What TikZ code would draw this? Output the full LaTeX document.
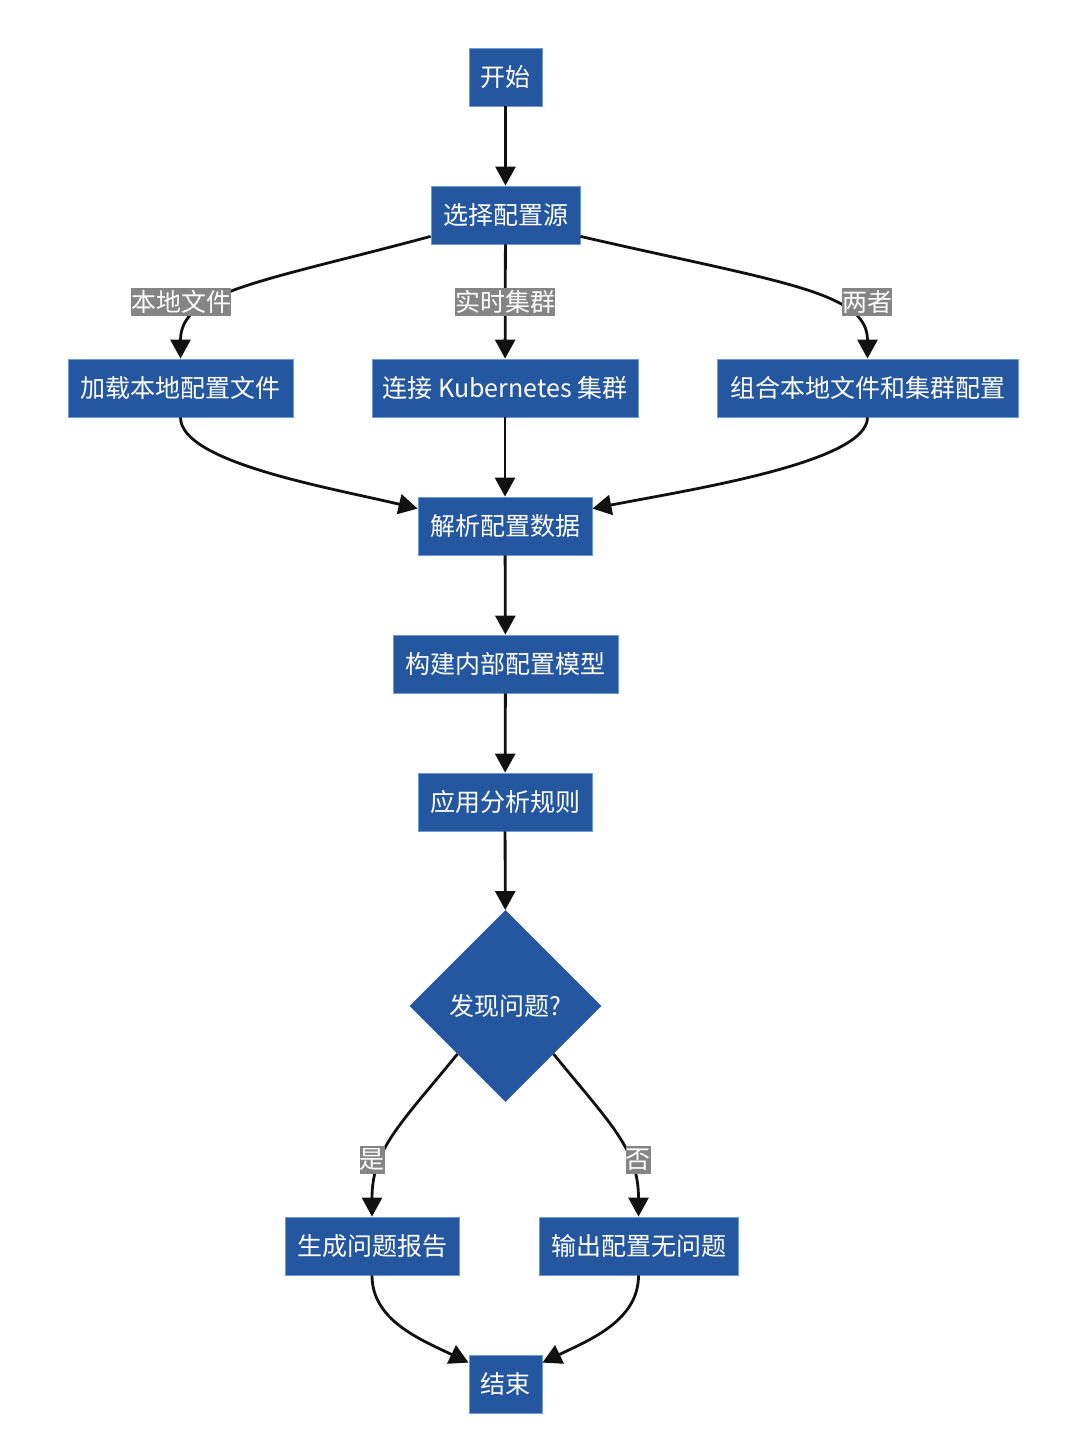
\documentclass[tikz,border=0pt]{standalone}
\usepackage{fontspec}
\setmainfont{Noto Sans CJK SC}
\usetikzlibrary{shapes.geometric,arrows.meta}
\definecolor{boxfill}{HTML}{2457A0}
\definecolor{boxline}{HTML}{6B9BD8}
\definecolor{lblgray}{HTML}{858585}
\definecolor{edgecol}{HTML}{111111}
\begin{document}
\begin{tikzpicture}[x=1pt,y=-1pt,
  box/.style={rectangle,fill=boxfill,draw=boxline,line width=0.8pt,text=white,
    minimum height=58pt,inner sep=0pt,font=\fontsize{25}{30}\selectfont},
  decision/.style={diamond,fill=boxfill,draw=none,text=white,minimum width=192pt,
    minimum height=192pt,inner sep=0pt,font=\fontsize{25}{30}\selectfont},
  lbl/.style={rectangle,fill=lblgray,text=white,inner xsep=0pt,inner ysep=0pt,
    minimum height=28pt,font=\fontsize{25}{30}\selectfont},
  flow/.style={line width=2.8pt,draw=edgecol,-{Triangle[length=19pt,width=20pt]}}]
\fill[white] (0,0) rectangle (1080,1456);
\useasboundingbox (0,0) rectangle (1080,1456);

\node[box,minimum width=73pt] (start) at (505.5,77) {开始};
\node[box,minimum width=149pt] (src) at (505.5,215) {选择配置源};
\node[box,minimum width=225pt] (load) at (180.5,388) {加载本地配置文件};
\node[box,minimum width=266pt] (k8s) at (505,388) {连接 Kubernetes 集群};
\node[box,minimum width=301pt] (comb) at (867.5,388) {组合本地文件和集群配置};
\node[box,minimum width=174pt] (parse) at (505,526) {解析配置数据};
\node[box,minimum width=225pt] (model) at (505.5,664) {构建内部配置模型};
\node[box,minimum width=174pt] (rules) at (505,802) {应用分析规则};
\node[decision] (dec) at (505.5,1006) {发现问题?};
\node[box,minimum width=174pt] (report) at (372,1246) {生成问题报告};
\node[box,minimum width=199pt] (ok) at (638.5,1246) {输出配置无问题};
\node[box,minimum width=73pt] (finish) at (505.5,1384) {结束};

\draw[flow] (start) -- (src);
\draw[flow] ([yshift=8pt]src.south west) .. controls +(-171,46) and +(0,-67) .. (load.north);
\draw[flow] (src) -- (k8s);
\draw[flow] ([yshift=8pt]src.south east) .. controls +(200,46) and +(0,-67) .. (comb.north);
\draw[flow] (load.south) .. controls +(0,45) and +(-88,-21) .. ([yshift=-12pt]parse.north west);
\draw[flow] (k8s) -- (parse);
\draw[flow] (comb.south) .. controls +(0,45) and +(98,-19) .. ([yshift=-12pt]parse.north east);
\draw[flow] (parse) -- (model);
\draw[flow] (model) -- (rules);
\draw[flow] (rules) -- (dec);
\draw[flow] (dec.south west) .. controls +(-58,71) and +(0,-67) .. (report.north);
\draw[flow] (dec.south east) .. controls +(58,71) and +(0,-67) .. (ok.north);
\draw[flow] (report.south) .. controls +(0,45) and +(-48,-23) .. ([yshift=-8pt]finish.north west);
\draw[flow] (ok.south) .. controls +(0,45) and +(48,-23) .. ([yshift=-8pt]finish.north east);

\node[lbl] (l1) at (181,302) {本地文件};
\node[lbl] (l2) at (505,302) {实时集群};
\node[lbl] (l3) at (867,302) {两者};
\node[lbl] (l4) at (372,1160) {是};
\node[lbl] (l5) at (638,1160) {否};
\end{tikzpicture}
\end{document}
